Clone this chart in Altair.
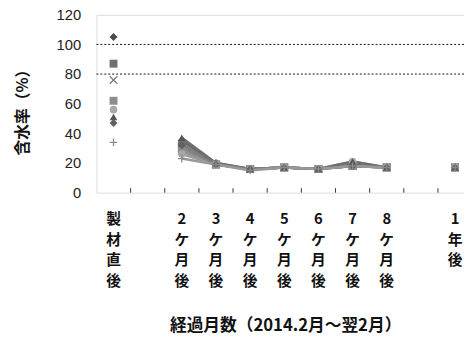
import altair as alt
import pandas as pd

# ---- data ----
cat_pos = [0, 2, 3, 4, 5, 6, 7, 8, 10]
cat_labels = ["製材直後", "2ケ月後", "3ケ月後", "4ケ月後", "5ケ月後",
              "6ケ月後", "7ケ月後", "8ケ月後", "1年後"]

s_a = [105, 35, 20, 16, 17, 16, 19, 17, 17]
s_b = [87, 33, 19, 16, 17, 16, 18, 17, 17]
s_c = [76, 30, 19, 16, 17, 16, 18, 17, 17]
s_d = [62, 28, 19, 16, 17, 16, 18, 17, 17]
s_e = [56, 26, 19, 16, 17, 16, 21, 17, 17]
s_f = [51, 37, 20, 16, 17, 16, 21, 17, 17]
s_g = [47, 32, 19, 16, 17, 16, 18, 17, 17]
s_h = [34, 23, 19, 15, 17, 16, 18, 17, 17]

ref_lines = [100, 80]
tick_pos = [0.5, 1.5, 2.5, 3.5, 4.5, 5.5, 6.5, 7.5, 8.5, 9.5]
y_ticks = [0, 20, 40, 60, 80, 100, 120]

series = {"A": s_a, "B": s_b, "C": s_c, "D": s_d,
          "E": s_e, "F": s_f, "G": s_g, "H": s_h}

rows = []
for name, vals in series.items():
    for p, v in zip(cat_pos, vals):
        rows.append({"series": name, "pos": p, "value": v})
df = pd.DataFrame(rows)

cat_df = pd.DataFrame({"pos": cat_pos,
                       "label": ["\n".join(list(t)) for t in cat_labels]})
ref_df = pd.DataFrame({"y": ref_lines})
tick_df = pd.DataFrame({"pos": tick_pos, "y0": 0, "y1": 3})

# ---- styles ----
X_PATH = "M-1,-1L1,1M-1,1L1,-1"
PLUS_PATH = "M-1,0H1M0,-1V1"
styles = {
    "A": dict(shape="diamond", filled=True, color="#4a4a4a", size=65),
    "B": dict(shape="square", filled=True, color="#707070", size=65),
    "C": dict(shape=X_PATH, filled=False, color="#7a7a7a", size=60),
    "D": dict(shape="square", filled=True, color="#8c8c8c", size=65),
    "E": dict(shape="circle", filled=True, color="#a8a8a8", size=60),
    "F": dict(shape="triangle-up", filled=True, color="#555555", size=60),
    "G": dict(shape="diamond", filled=True, color="#606060", size=65),
    "H": dict(shape=PLUS_PATH, filled=False, color="#8a8a8a", size=60),
}

W, H = 374, 181
x_scale = alt.Scale(domain=[-0.5, 10.263], nice=False, zero=False)
y_scale = alt.Scale(domain=[0, 120], nice=False)
x_axis = alt.Axis(domain=False, ticks=False, labels=False, grid=False,
                  title="経過月数（2014.2月～翌2月）",
                  titleFont="Noto Sans CJK JP", titleFontSize=17,
                  titleFontWeight="bold", titleColor="#111",
                  titlePadding=127, titleX=192, titleAlign="center")
y_axis = alt.Axis(values=y_ticks, domain=False, ticks=False, grid=False,
                  labelFont="Liberation Sans", labelFontSize=15,
                  labelColor="#222", labelPadding=16,
                  title="含水率（%）", titleFont="Noto Sans CJK JP",
                  titleFontSize=16, titleFontWeight="bold", titleColor="#111",
                  titlePadding=26, titleY=95)

X = alt.X("pos:Q", scale=x_scale, axis=x_axis)
Y = alt.Y("value:Q", scale=y_scale, axis=y_axis)

base = alt.Chart(df)

refs = alt.Chart(ref_df).mark_rule(color="#111", strokeDash=[2, 2], strokeWidth=1).encode(
    y=alt.Y("y:Q", scale=y_scale, axis=y_axis)
)

ticks = alt.Chart(tick_df).mark_rule(color="#333", strokeWidth=1).encode(
    x=alt.X("pos:Q", scale=x_scale, axis=x_axis),
    y=alt.Y("y0:Q", scale=y_scale, axis=y_axis),
    y2="y1:Q",
)

lines = base.transform_filter(
    (alt.datum.pos >= 2) & (alt.datum.pos <= 8)
).mark_line(strokeWidth=2.5).encode(
    x=X, y=Y,
    color=alt.Color("series:N", legend=None,
                    scale=alt.Scale(domain=list(series.keys()),
                                    range=["#666", "#7a7a7a", "#858585", "#8f8f8f",
                                           "#9a9a9a", "#6e6e6e", "#7f7f7f", "#999"])),
    detail="series:N",
)

point_layers = []
for name in series:
    st = styles[name]
    kw = dict(shape=st["shape"], size=st["size"], opacity=1)
    if st["filled"]:
        kw.update(filled=True, color=st["color"])
    else:
        kw.update(filled=False, color=st["color"], strokeWidth=1.3)
    point_layers.append(
        base.transform_filter(alt.datum.series == name).mark_point(**kw).encode(x=X, y=Y)
    )

labels = alt.Chart(cat_df).mark_text(
    font="Noto Sans CJK JP", fontSize=15, fontWeight="bold", lineBreak="\n",
    lineHeight=21, baseline="top", align="center", color="#111"
).encode(
    x=alt.X("pos:Q", scale=x_scale, axis=x_axis),
    y=alt.value(H + 20),
    text="label:N",
)

chart = alt.layer(refs, ticks, lines, *point_layers, labels).properties(
    width=W, height=H,
    autosize=alt.AutoSizeParams(type="none"),
    padding={"left": 90, "top": 4, "right": 0, "bottom": 146},
).configure_view(stroke="#111", strokeWidth=1).configure(background="white")

chart.save("out.html", embed_options={"renderer": "svg", "actions": False})
